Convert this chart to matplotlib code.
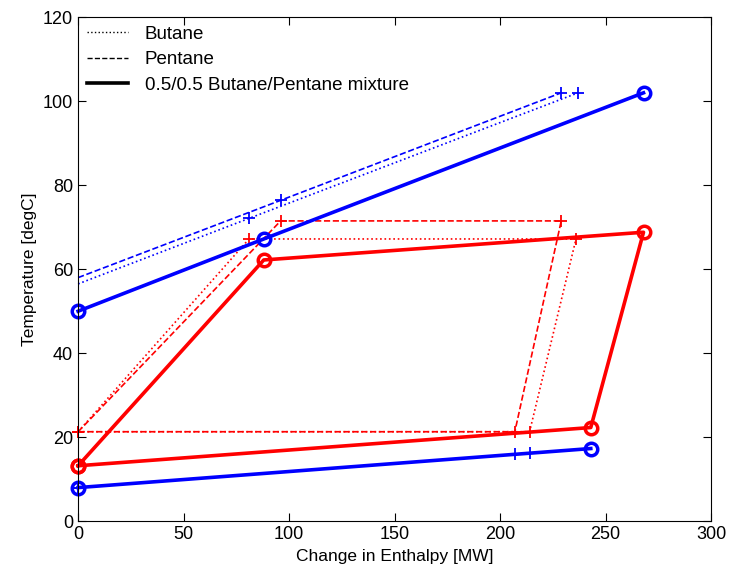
import matplotlib.pyplot as plt

plt.rcParams["font.family"] = ["Liberation Sans", "DejaVu Sans"]

### data ###

# 0.5/0.5 mixture (solid, circles)
mix_hot_top_x = [0, 88, 268]
mix_hot_top_y = [50, 67.2, 102]
mix_hot_bot_x = [0, 243]
mix_hot_bot_y = [8, 17.3]
mix_cold_x = [0, 88, 268, 243, 0]
mix_cold_y = [13.2, 62.2, 68.8, 22.3, 13.2]

# Butane (dotted, plus)
but_hot_top_x = [0, 81, 237]
but_hot_top_y = [56.5, 72.1, 102]
but_hot_bot_x = [0, 214]
but_hot_bot_y = [8, 16.2]
but_cold_x = [0, 81, 236, 214, 0]
but_cold_y = [21.3, 67.2, 67.2, 21.3, 21.3]

# Pentane (dashed, plus)
pen_hot_top_x = [0, 96, 229]
pen_hot_top_y = [58, 76.4, 102]
pen_hot_bot_x = [0, 207]
pen_hot_bot_y = [8, 15.9]
pen_cold_x = [0, 96, 229, 207, 0]
pen_cold_y = [21.3, 71.5, 71.5, 21.3, 21.3]

fig = plt.figure(figsize=(7.3, 5.74), dpi=100)
ax = fig.add_axes([0.107, 0.092, 0.867, 0.878])

thin = dict(lw=1.2, marker="+", ms=9, mew=1.3, clip_on=False)
ax.plot(but_hot_top_x, but_hot_top_y, ":", color="blue", markevery=[1, 2], **thin)
ax.plot(but_hot_bot_x, but_hot_bot_y, ":", color="blue", **thin)
ax.plot(but_cold_x, but_cold_y, ":", color="red", **thin)
ax.plot(pen_hot_top_x, pen_hot_top_y, "--", color="blue", markevery=[1, 2], **thin)
ax.plot(pen_hot_bot_x, pen_hot_bot_y, "--", color="blue", **thin)
ax.plot(pen_cold_x, pen_cold_y, "--", color="red", **thin)

thick = dict(lw=2.6, marker="o", ms=9, mew=2.5, mfc="none", clip_on=False)
ax.plot(mix_hot_top_x, mix_hot_top_y, "-", color="blue", **thick)
ax.plot(mix_hot_bot_x, mix_hot_bot_y, "-", color="blue", **thick)
ax.plot(mix_cold_x, mix_cold_y, "-", color="red", **thick)

# legend with black proxy lines
l1, = ax.plot([], [], ":", color="black", lw=1.0)
l2, = ax.plot([], [], "--", color="black", lw=1.0)
l3, = ax.plot([], [], "-", color="black", lw=2.6)
ax.legend([l1, l2, l3], ["Butane", "Pentane", "0.5/0.5 Butane/Pentane mixture"],
          loc="upper left", frameon=False, fontsize=13.5, handlelength=2.2,
          borderaxespad=0.05, labelspacing=0.45, handletextpad=0.9)

ax.set_xlim(0, 300)
ax.set_ylim(0, 120)
ax.set_xticks(range(0, 301, 50))
ax.set_yticks(range(0, 121, 20))
ax.tick_params(direction="in", top=True, right=True, labelsize=13, length=6)
ax.set_xlabel("Change in Enthalpy [MW]", fontsize=12.5)
ax.set_ylabel("Temperature [degC]", fontsize=12.5)

fig.savefig("out.png", dpi=100)
